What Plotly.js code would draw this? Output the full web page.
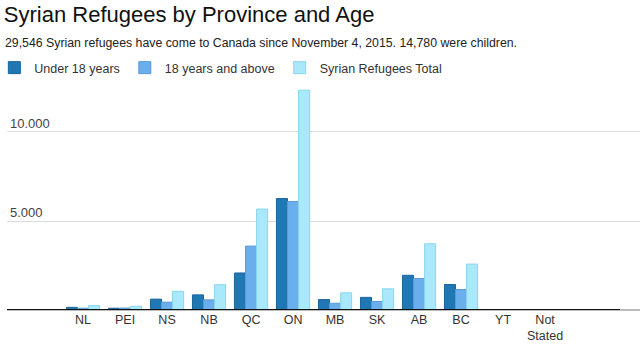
<!DOCTYPE html>
<html>
<head>
<meta charset="utf-8">
<script src="https://cdn.plot.ly/plotly-3.0.1.min.js"></script>
<style>html,body{margin:0;padding:0;background:#fff;}#chart{width:640px;height:352px;}</style>
</head>
<body>
<div id="chart"></div>
<script>
const provinces = ['NL','PEI','NS','NB','QC','ON','MB','SK','AB','BC','YT','Not<br>Stated'];
const under18 = [150, 100, 610, 850, 2080, 6260, 585, 710, 1950, 1430, 0, 0];
const adults = [100, 110, 440, 570, 3590, 6090, 380, 480, 1770, 1150, 0, 0];
const totals = [250, 210, 1050, 1420, 5670, 12350, 965, 1190, 3720, 2580, 0, 0];
const seriesNames = ['Under 18 years', '18 years and above', 'Syrian Refugees Total'];
const titleText = 'Syrian Refugees by Province and Age';
const subtitleText = '29,546 Syrian refugees have come to Canada since November 4, 2015. 14,780 were children.';
const yTicks = [5000, 10000];

const FONT = 'Liberation Sans, Arial, sans-serif';
const fills = ['#1f77b4', '#6aaeec', '#aae8fb'];
const borders = ['#19659c', '#5a9ad8', '#8ad6ee'];
const vals = [under18, adults, totals];

const traces = vals.map((v, i) => ({
  type: 'bar',
  name: seriesNames[i],
  x: provinces,
  y: v,
  marker: {color: fills[i], line: {color: borders[i], width: 1}},
  hoverinfo: 'x+y+name'
}));

const layout = {
  width: 640, height: 352,
  margin: {l: 7, r: 0, t: 85, b: 42, autoexpand: false},
  paper_bgcolor: '#fff', plot_bgcolor: '#fff',
  font: {family: FONT, size: 13, color: '#333'},
  separators: ',.',
  barmode: 'group',
  bargap: 0.21,
  bargroupgap: 0,
  title: {
    text: titleText,
    font: {family: FONT, size: 22, color: '#111'},
    x: 0.006, xanchor: 'left', xref: 'container',
    y: 1 - 14 / 352, yanchor: 'middle', yref: 'container',
    pad: {t: 0, b: 0, l: 0, r: 0}
  },
  annotations: [{
    text: subtitleText,
    xref: 'paper', yref: 'paper', x: -4 / 633, y: (310 - 43) / 225,
    xanchor: 'left', yanchor: 'middle', showarrow: false,
    font: {family: FONT, size: 12.3, color: '#222'}
  }],
  showlegend: true,
  legend: {
    orientation: 'h',
    xref: 'paper', yref: 'paper',
    x: -0.02, y: (310 - 68) / 225, xanchor: 'left', yanchor: 'middle',
    font: {family: FONT, size: 12.5, color: '#333'},
    itemclick: false, tracegroupgap: 0,
    traceorder: 'normal'
  },
  xaxis: {
    type: 'category',
    range: [-1.81, 13.26],
    showgrid: false, zeroline: false, showline: false,
    ticks: '',
    tickfont: {family: FONT, size: 12.5, color: '#333'},
    fixedrange: true
  },
  yaxis: {
    range: [0, 12640],
    tickvals: yTicks,
    tickformat: ',d',
    ticklabelposition: 'inside top',
    ticklabelshift: 1,
    showgrid: true, gridcolor: '#dcdcdc', gridwidth: 1,
    zeroline: true, zerolinecolor: '#bbbbbb', zerolinewidth: 2,
    showline: false, ticks: '',
    tickfont: {family: FONT, size: 13, color: '#444'},
    fixedrange: true
  },
  shapes: [{
    type: 'line', xref: 'paper', yref: 'y',
    x0: 0, x1: (620 - 7) / 633, y0: 0, y1: 0,
    line: {color: '#111', width: 2}
  }]
};

Plotly.newPlot('chart', traces, layout, {displayModeBar: false, staticPlot: true});
</script>
</body>
</html>
